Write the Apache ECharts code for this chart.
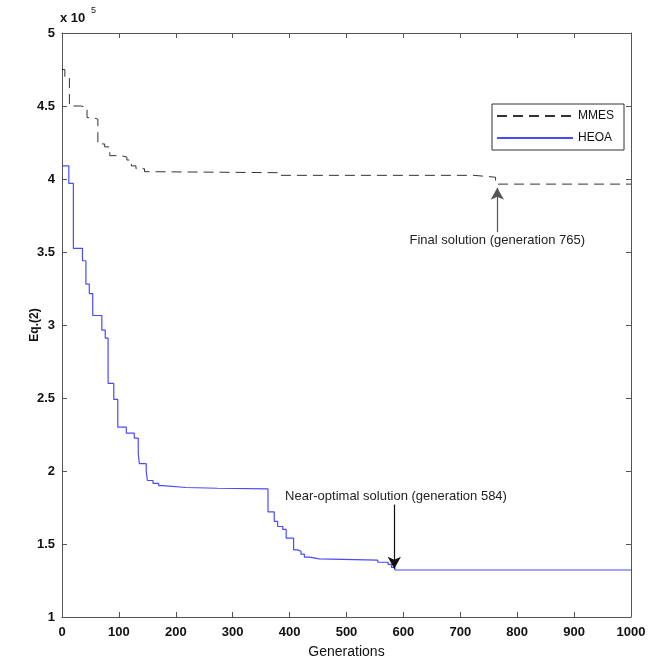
<!DOCTYPE html>
<html>
<head>
<meta charset="utf-8">
<script src="https://cdn.jsdelivr.net/npm/echarts@6/dist/echarts.min.js"></script>
<style>html,body{margin:0;padding:0;background:#fff}#c{width:656px;height:659px}</style>
</head>
<body>
<div id="c"></div>
<script>
// Generations (x) and Eq.(2) values in units of 1e5 (y)
const mmesGen = [0, 5, 13, 33, 44, 55, 63, 75, 84, 104, 114, 122, 130, 145, 160, 385, 724, 762, 1000];
const mmesVal = [4.75, 4.70, 4.50, 4.49, 4.42, 4.41, 4.24, 4.22, 4.16, 4.15, 4.13, 4.09, 4.07, 4.05, 4.043, 4.025, 4.012, 3.965, 3.965];
const heoaGen = [0, 12, 20, 36, 42, 48, 54, 70, 76, 81, 91, 98, 113, 127, 134, 136, 148, 150, 160, 170, 177, 218, 273, 362, 373, 379, 388, 394, 407, 414, 420, 426, 435, 452, 555, 573, 579, 585, 1000];
const heoaVal = [4.09, 3.97, 3.525, 3.44, 3.28, 3.215, 3.065, 2.965, 2.91, 2.6, 2.49, 2.3, 2.26, 2.225, 2.12, 2.05, 2.0, 1.935, 1.915, 1.90, 1.887, 1.882, 1.877, 1.72, 1.655, 1.62, 1.60, 1.54, 1.46, 1.45, 1.43, 1.41, 1.398, 1.389, 1.375, 1.36, 1.34, 1.322, 1.322];
const xTicks = [0, 100, 200, 300, 400, 500, 600, 700, 800, 900, 1000];
const yTicks = [1, 1.5, 2, 2.5, 3, 3.5, 4, 4.5, 5];
const seriesNames = ['MMES', 'HEOA'];
const noteNear = {text: 'Near-optimal solution (generation 584)', gen: 584, textY: 1.826, fromY: 1.77, toY: 1.33};
const noteFinal = {text: 'Final solution (generation 765)', gen: 765, textY: 3.58, fromY: 3.636, toY: 3.94};

const zip = (a, b) => a.map((v, i) => [v, b[i]]);
const chart = echarts.init(document.getElementById('c'), null, {renderer: 'canvas'});
const axisColor = '#555';
const FF = 'Liberation Sans, Arial, sans-serif';
const labelFont = () => ({fontFamily: FF, fontWeight: 'bold', fontSize: 13, color: '#111'});
const xMin = xTicks[0], xMax = xTicks[xTicks.length - 1];
const yMin = yTicks[0], yMax = yTicks[yTicks.length - 1];
const tick = () => ({show: true, inside: true, length: 5, lineStyle: {color: axisColor, width: 1}});
const aline = () => ({show: true, onZero: false, lineStyle: {color: axisColor, width: 1}});

chart.setOption({
  animation: false,
  backgroundColor: '#fff',
  grid: {left: 62, right: 25, top: 33, bottom: 42, containLabel: false, outerBoundsMode: 'none'},
  legend: {
    right: 32, top: 104, orient: 'vertical', itemWidth: 76, itemHeight: 10, itemGap: 10,
    borderColor: '#333', borderWidth: 1, padding: [6, 10, 6, 4], backgroundColor: '#fff',
    itemStyle: {opacity: 0},
    textStyle: {fontFamily: FF, fontSize: 12, color: '#111'},
    data: seriesNames
  },
  xAxis: [
    {type: 'value', min: xMin, max: xMax, interval: 100, position: 'bottom',
      name: 'Generations', nameLocation: 'middle', nameGap: 28, nameMoveOverlap: false,
      nameTextStyle: {fontFamily: FF, fontSize: 14, color: '#111', verticalAlign: 'top'},
      axisLine: aline(), axisTick: tick(),
      axisLabel: Object.assign({margin: 9, formatter: v => String(v)}, labelFont()),
      splitLine: {show: false}},
    {type: 'value', min: xMin, max: xMax, interval: 100, position: 'top',
      axisLine: aline(), axisTick: tick(),
      axisLabel: {show: false}, splitLine: {show: false}}
  ],
  yAxis: [
    {type: 'value', min: yMin, max: yMax, interval: 0.5, position: 'left',
      name: 'Eq.(2)', nameLocation: 'middle', nameGap: 21, nameRotate: 90, nameMoveOverlap: false,
      nameTextStyle: {fontFamily: FF, fontWeight: 'bold', fontSize: 12, color: '#111'},
      axisLine: aline(), axisTick: tick(),
      axisLabel: Object.assign({margin: 7, formatter: v => String(+v.toFixed(1))}, labelFont()),
      splitLine: {show: false}},
    {type: 'value', min: yMin, max: yMax, interval: 0.5, position: 'right',
      axisLine: aline(), axisTick: tick(),
      axisLabel: {show: false}, splitLine: {show: false}}
  ],
  graphic: [{
    type: 'text', left: 60, top: 12,
    style: {text: 'x 10', font: 'bold 13px Liberation Sans, Arial, sans-serif', fill: '#111'}
  }, {
    type: 'text', left: 91, top: 6,
    style: {text: '5', font: '9px Liberation Sans, Arial, sans-serif', fill: '#111'}
  }],
  series: [
    {name: seriesNames[0], type: 'line', step: 'end', symbol: 'none', data: zip(mmesGen, mmesVal),
      lineStyle: {color: '#333', width: 1, type: [10, 6]}, itemStyle: {color: '#333'},
      markLine: {
        silent: true, symbol: ['none', 'arrow'], symbolSize: [10, 12],
        lineStyle: {color: '#555', width: 1.2, type: 'solid'},
        label: {show: false},
        data: [[{coord: [noteFinal.gen, noteFinal.fromY]}, {coord: [noteFinal.gen, noteFinal.toY]}]]
      },
      markPoint: {
        silent: true, symbol: 'rect', symbolSize: 1, itemStyle: {color: 'transparent'},
        label: {show: true, position: 'inside', formatter: noteFinal.text, fontFamily: FF, fontSize: 13, color: '#222'},
        data: [{coord: [noteFinal.gen, noteFinal.textY]}]
      }},
    {name: seriesNames[1], type: 'line', step: 'end', symbol: 'none', data: zip(heoaGen, heoaVal),
      lineStyle: {color: '#4a4aff', width: 1.2}, itemStyle: {color: '#4a4aff'},
      markLine: {
        silent: true, symbol: ['none', 'arrow'], symbolSize: [10, 12],
        lineStyle: {color: '#111', width: 1.2, type: 'solid'},
        label: {show: false},
        data: [[{coord: [noteNear.gen, noteNear.fromY]}, {coord: [noteNear.gen, noteNear.toY]}]]
      },
      markPoint: {
        silent: true, symbol: 'rect', symbolSize: 1, itemStyle: {color: 'transparent'},
        label: {show: true, position: 'inside', formatter: noteNear.text, fontFamily: FF, fontSize: 13, color: '#222'},
        data: [{coord: [noteNear.gen + 3, noteNear.textY]}]
      }}
  ]
});
</script>
</body>
</html>
